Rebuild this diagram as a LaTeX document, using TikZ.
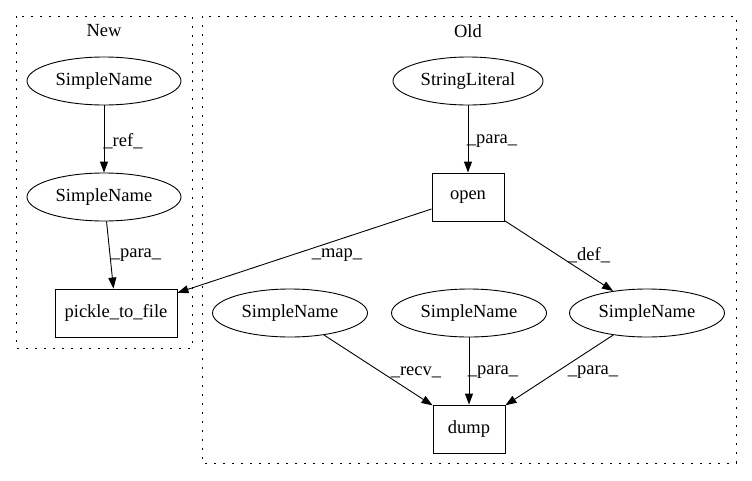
\documentclass[tikz,border=0pt]{standalone}
\usepackage{fontspec}
\setmainfont{Liberation Serif}
\usetikzlibrary{shapes.geometric,arrows.meta}
\begin{document}
\begin{tikzpicture}[x=1pt,y=-1pt,
  every node/.style={font=\fontsize{18.5}{21}\selectfont},
  ell/.style={draw,ellipse,line width=0.9pt,inner sep=0pt,minimum height=48pt},
  box/.style={draw,rectangle,line width=0.9pt,inner sep=0pt,minimum height=48pt},
  arr/.style={draw,line width=0.9pt,-{Triangle[length=11pt,width=8pt]}},
  lbl/.style={inner sep=0pt},
  cluster/.style={draw,line width=1pt,dash pattern=on 1.6pt off 7.4pt}]
\useasboundingbox (0,0) rectangle (752,480);
% clusters
\draw[cluster] (16,16) rectangle (192,348);
\draw[cluster] (202,16) rectangle (736,463);
\node[lbl] (newlbl) at (104,31) {New};
\node[lbl] (oldlbl) at (468,31) {Old};
% New
\node[ell,minimum width=154pt] (n1) at (104,81) {SimpleName};
\node[ell,minimum width=154pt] (n2) at (104,197) {SimpleName};
\node[box,minimum width=122pt] (ptf) at (116,313) {pickle\_to\_file};
% Old
\node[ell,minimum width=150pt] (sl) at (468,81) {StringLiteral};
\node[box,minimum width=72pt] (open) at (468,197) {open};
\node[ell,minimum width=155pt] (s1) at (290,313) {SimpleName};
\node[ell,minimum width=155pt] (s2) at (469,313) {SimpleName};
\node[ell,minimum width=155pt] (s3) at (647,313) {SimpleName};
\node[box,minimum width=72pt] (dump) at (469,429) {dump};
% edges
\draw[arr] (n1) -- (n2);
\node[lbl] (l1) at (123,141) {\_ref\_};
\draw[arr] (n2) -- (ptf);
\node[lbl] (l2) at (136,255) {\_para\_};
\draw[arr] (sl) -- (open);
\node[lbl] (l3) at (492,141) {\_para\_};
\draw[arr] (open) -- (ptf);
\node[lbl] (l4) at (337,255) {\_map\_};
\draw[arr] (open) -- (s3);
\node[lbl] (l5) at (589,255) {\_def\_};
\draw[arr] (s1) -- (dump);
\node[lbl] (l6) at (416,372) {\_recv\_};
\draw[arr] (s2) -- (dump);
\node[lbl] (l7) at (493,372) {\_para\_};
\draw[arr] (s3) -- (dump);
\node[lbl] (l8) at (593,372) {\_para\_};
\end{tikzpicture}
\end{document}
